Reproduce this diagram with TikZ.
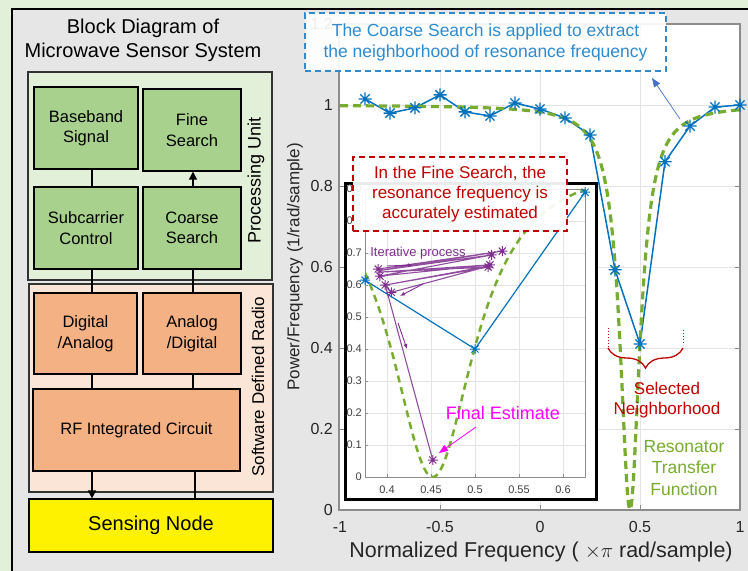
\documentclass[tikz,border=0pt]{standalone}
\usepackage{fontspec}
\setmainfont{Liberation Sans}
\usetikzlibrary{arrows.meta,decorations.pathreplacing,calc}
\definecolor{bggreen}{HTML}{E2F0D9}
\definecolor{panelgray}{HTML}{E7E6E6}
\definecolor{boxgreen}{HTML}{A9D18E}
\definecolor{sdrbg}{HTML}{FBE5D6}
\definecolor{boxorange}{HTML}{F4B183}
\definecolor{mblue}{HTML}{0072BD}
\definecolor{tblue}{HTML}{2E8BD0}
\definecolor{ablue}{HTML}{4472C4}
\definecolor{mgreen}{HTML}{77AC30}
\definecolor{mred}{HTML}{C00000}
\definecolor{mpurple}{HTML}{7E2F8E}
\definecolor{mmag}{HTML}{FF00FF}
\definecolor{axgray}{HTML}{8C8C8C}
\definecolor{gridgray}{HTML}{E3E3E3}
\definecolor{tickgray}{HTML}{262626}
\newcommand{\fsz}[2]{\fontsize{#1}{#2}\selectfont}
\pgfdeclareplotmark{mstar}{%
 \pgfpathmoveto{\pgfqpoint{-\pgfplotmarksize}{0pt}}\pgfpathlineto{\pgfqpoint{\pgfplotmarksize}{0pt}}%
 \pgfpathmoveto{\pgfqpoint{0pt}{-\pgfplotmarksize}}\pgfpathlineto{\pgfqpoint{0pt}{\pgfplotmarksize}}%
 \pgfpathmoveto{\pgfqpoint{-.7071\pgfplotmarksize}{-.7071\pgfplotmarksize}}\pgfpathlineto{\pgfqpoint{.7071\pgfplotmarksize}{.7071\pgfplotmarksize}}%
 \pgfpathmoveto{\pgfqpoint{-.7071\pgfplotmarksize}{.7071\pgfplotmarksize}}\pgfpathlineto{\pgfqpoint{.7071\pgfplotmarksize}{-.7071\pgfplotmarksize}}%
 \pgfusepathqstroke}
\begin{document}
\begin{tikzpicture}[x=1pt,y=-1pt,
  blk/.style={draw=black,line width=1.2pt,align=center,inner sep=0pt,font=\fsz{16.5}{20.5}},
  gblk/.style={blk,fill=boxgreen},
  oblk/.style={blk,fill=boxorange},
  panel/.style={draw=black!80,line width=1.2pt,inner sep=0pt},
  conn/.style={line width=1.5pt,draw=black},
  arr/.style={conn,-{Triangle[width=8pt,length=8pt]}},
  ticklab/.style={font=\fsz{16}{18},text=tickgray,inner sep=1pt},
  itick/.style={font=\fsz{11}{12},text=black!75,inner sep=1pt},
  note/.style={line width=1.2pt,dash pattern=on 6pt off 4pt,fill=white,fill opacity=0.92,text opacity=1,align=center,inner sep=0pt},
 ]
\useasboundingbox (0,0) rectangle (748,571);
\fill[bggreen] (0,0) rectangle (748,571);
\fill[panelgray] (12,9) rectangle (760,580);
\draw[line width=1.5pt] (760,9) -- (12,9) -- (12,580);

% ---------------- block diagram ----------------
\node[font=\fsz{20}{24},align=center] (title) at (143,40) {Block Diagram of\\Microwave Sensor System};
\node[panel,fill=bggreen,minimum width=244pt,minimum height=208pt] (pu) at (150,176) {};
\node[panel,fill=sdrbg,minimum width=244pt,minimum height=208pt] (sdr) at (151,388) {};
\node[rotate=90,font=\fsz{18}{20}] (pulab) at (256,180) {Processing Unit};
\node[rotate=90,font=\fsz{17}{20}] (sdrlab) at (258,387) {Software Defined Radio};

\node[gblk,minimum width=104pt,minimum height=82pt] (base) at (86,128) {Baseband\\Signal};
\node[gblk,minimum width=98pt,minimum height=82pt] (fine) at (192,130) {Fine\\Search};
\node[gblk,minimum width=104pt,minimum height=82pt] (sub) at (86,228) {Subcarrier\\Control};
\node[gblk,minimum width=98pt,minimum height=82pt] (coarse) at (192,228) {Coarse\\Search};
\node[oblk,minimum width=103pt,minimum height=81pt] (da) at (85.5,333.5) {Digital\\/Analog};
\node[oblk,minimum width=98pt,minimum height=81pt] (ad) at (192,333.5) {Analog\\/Digital};
\node[oblk,minimum width=207pt,minimum height=82pt] (rf) at (136.5,430) {RF Integrated Circuit};
\node[blk,fill=yellow,minimum width=244pt,minimum height=53pt,font=\fsz{20}{24}] (sense) at (151,525.5) {Sensing Node};

\coordinate (cl) at (92,0);
\coordinate (cr) at (193,0);
\coordinate (cr2) at (195,0);
\draw[conn] (base.south -| cl) -- (sub.north -| cl);
\draw[arr] (coarse.north -| cr) -- (fine.south -| cr);
\draw[conn] (sub.south -| cl) -- (da.north -| cl);
\draw[conn] (coarse.south -| cr) -- (ad.north -| cr);
\draw[conn] (da.south -| cl) -- (rf.north -| cl);
\draw[conn] (ad.south -| cr) -- (rf.north -| cr);
\draw[arr] (rf.south -| cl) -- (sense.north -| cl);
\draw[conn] (sense.north -| cr2) -- (rf.south -| cr2);

% ---------------- main axes ----------------
\fill[white] (339,24) rectangle (740,510);
\foreach \x in {-0.5,0,0.5} \draw[gridgray,line width=0.8pt] ({540+200*\x},24) -- ({540+200*\x},510);
\foreach \y in {0.2,0.4,0.6,0.8,1.0} \draw[gridgray,line width=0.8pt] (339,{510-405*\y}) -- (740,{510-405*\y});
\foreach \x in {-0.5,0,0.5} \draw[axgray,line width=0.8pt] ({540+200*\x},510) -- ++(0,-5) ({540+200*\x},24) -- ++(0,5);
\foreach \y in {0.2,0.4,0.6,0.8,1.0} \draw[axgray,line width=0.8pt] (339,{510-405*\y}) -- ++(5,0) (740,{510-405*\y}) -- ++(-5,0);
\draw[axgray,line width=1.2pt] (339,24) rectangle (740,510);
\foreach \y/\t [count=\i] in {0/0,0.2/0.2,0.4/0.4,0.6/0.6,0.8/0.8,1/1,1.2/1.2}
  \node[ticklab,anchor=east] (yt\i) at (334,{510-405*\y}) {\t};
\foreach \x/\t [count=\i] in {-1/-1,-0.5/-0.5,0/0,0.5/0.5,1/1}
  \node[ticklab] (xt\i) at ({540+200*\x},527) {\t};
\node[font=\fsz{21.5}{24},text=tickgray] (xlab) at (541,552) {Normalized Frequency ( $\times\pi$ rad/sample)};
\node[rotate=90,font=\fsz{17}{20},text=tickgray] (ylab) at (295,267) {Power/Frequency (1/rad/sample)};

\begin{scope}[shift={(540,510)},x=200pt,y=405pt]
 \draw[mblue,line width=1.5pt] plot coordinates {(-0.875,1.015) (-0.75,0.98) (-0.625,0.993) (-0.5,1.025) (-0.375,0.983) (-0.25,0.973) (-0.125,1.005) (0,0.99) (0.125,0.968) (0.25,0.926) (0.375,0.593) (0.5,0.41) (0.625,0.86) (0.75,0.948) (0.875,0.995) (1.0,1.0)};
 \draw[mgreen,line width=3.2pt,dash pattern=on 8pt off 5pt] plot[domain=-1:1,samples=401] (\x,{((\x-0.45)/0.06)^2/(1+((\x-0.45)/0.06)^2)});
 \draw[mblue,line width=1.3pt] plot[only marks,mark=mstar,mark size=6.5pt] coordinates {(-0.875,1.015) (-0.75,0.98) (-0.625,0.993) (-0.5,1.025) (-0.375,0.983) (-0.25,0.973) (-0.125,1.005) (0,0.99) (0.125,0.968) (0.25,0.926) (0.375,0.593) (0.5,0.41) (0.625,0.86) (0.75,0.948) (0.875,0.995) (1.0,1.0)};
\end{scope}

% ---------------- inset ----------------
\node[draw=black,line width=3pt,fill=white,minimum width=251pt,minimum height=316pt,inner sep=0pt] (inset) at (470.5,341) {};
\foreach \x in {0.4,0.45,0.5,0.55,0.6} \draw[gridgray,line width=0.7pt] ({35+880*\x},189) -- ({35+880*\x},477);
\foreach \y in {0.1,0.2,0.3,0.4,0.5,0.6,0.7,0.8} \draw[gridgray,line width=0.7pt] (365,{477-320*\y}) -- (585,{477-320*\y});
\foreach \x in {0.4,0.45,0.5,0.55,0.6} \draw[axgray,line width=0.6pt] ({35+880*\x},477) -- ++(0,-3);
\foreach \y in {0.1,0.2,0.3,0.4,0.5,0.6,0.7,0.8} \draw[axgray,line width=0.6pt] (365,{477-320*\y}) -- ++(3,0);
\draw[axgray,line width=0.8pt] (365,189) rectangle (585,477);
\foreach \y [count=\i] in {0,0.1,0.2,0.3,0.4,0.5,0.6,0.7,0.8,0.9}
  \node[itick,anchor=east] (iy\i) at (363,{477-320*\y}) {\y};
\foreach \x [count=\i] in {0.4,0.45,0.5,0.55,0.6}
  \node[itick] (ix\i) at ({35+880*\x},490) {\x};

\begin{scope}[shift={(35,477)},x=880pt,y=320pt]
 \draw[mblue,line width=1.2pt] plot coordinates {(0.375,0.615) (0.5,0.40) (0.625,0.89)};
 \begin{scope}
  \clip (0.375,0) rectangle (0.625,0.9);
  \draw[mgreen,line width=2.5pt,dash pattern=on 7pt off 5pt] plot[domain=0.375:0.625,samples=201] (\x,{((\x-0.452)/0.058)^2/(1+((\x-0.452)/0.058)^2)});
 \end{scope}
 \draw[mblue,line width=1pt] plot[only marks,mark=mstar,mark size=5pt] coordinates {(0.375,0.615) (0.5,0.40) (0.625,0.89)};
 \draw[mpurple,line width=1.1pt,opacity=0.85] plot coordinates {(0.390,0.650) (0.531,0.706) (0.391,0.645) (0.519,0.694) (0.392,0.628) (0.517,0.663) (0.390,0.640) (0.515,0.656) (0.398,0.600) (0.517,0.660) (0.405,0.577) (0.398,0.600) (0.452,0.053)};
 \draw[mpurple,line width=1pt] plot[only marks,mark=mstar,mark size=5pt] coordinates {(0.390,0.650) (0.392,0.628) (0.398,0.600) (0.405,0.577) (0.531,0.706) (0.519,0.694) (0.517,0.663) (0.515,0.656) (0.452,0.053)};
\end{scope}

\node[font=\fsz{13}{15},text=mpurple] (iter) at (418,253) {Iterative process};
\coordinate (p1a) at (387,266); \coordinate (p1b) at (413,265);
\coordinate (p2a) at (423,284); \coordinate (p2b) at (400,296);
\coordinate (p3a) at (398,323); \coordinate (p3b) at (407,349);
\draw[mpurple,line width=0.9pt,-{Latex[length=5pt,width=4pt]}] (p1a) -- (p1b);
\draw[mpurple,line width=0.9pt,-{Latex[length=5pt,width=4pt]}] (p2a) -- (p2b);
\draw[mpurple,line width=0.9pt,-{Latex[length=5pt,width=4pt]}] (p3a) -- (p3b);

\node[font=\fsz{18}{20},text=mmag] (final) at (503,413) {Final Estimate};
\coordinate (fa) at (476,427); \coordinate (fb) at (439,453);
\draw[mmag,line width=0.8pt,-{Triangle[length=9pt,width=7pt]}] (fa) -- (fb);

% ---------------- annotations ----------------
\node[note,draw=tblue,text=tblue,font=\fsz{17.5}{21},minimum width=361pt,minimum height=58pt] (coarsenote) at (485.5,42) {The Coarse Search is applied to extract\\the neighborhood of resonance frequency};
\coordinate (ca) at (680,119); \coordinate (cb) at (652,78);
\draw[ablue,line width=0.7pt,-{Triangle[length=9pt,width=7pt]}] (ca) -- (cb);

\node[note,draw=mred,text=mred,font=\fsz{17}{20},minimum width=214pt,minimum height=74pt] (finenote) at (460,194) {In the Fine Search, the\\resonance frequency is\\accurately estimated};

\coordinate (bl) at (608,348); \coordinate (br) at (683,348);
\coordinate (blt) at (608,328); \coordinate (brt) at (683,330);
\draw[mred,line width=1.3pt,decorate,decoration={brace,mirror,amplitude=20pt}] (bl) -- (br);
\draw[mred,line width=1pt,dotted] (blt) -- (bl);
\draw[mred,line width=1pt,dotted] (brt) -- ($(br)+(0,-3)$);
\node[font=\fsz{17}{20},text=mred,align=center] (selnb) at (667,400) {Selected\\Neighborhood};
\node[font=\fsz{17.5}{21.5},text=mgreen,align=center] (rtf) at (684,468) {Resonator\\Transfer\\Function};
\end{tikzpicture}
\end{document}
